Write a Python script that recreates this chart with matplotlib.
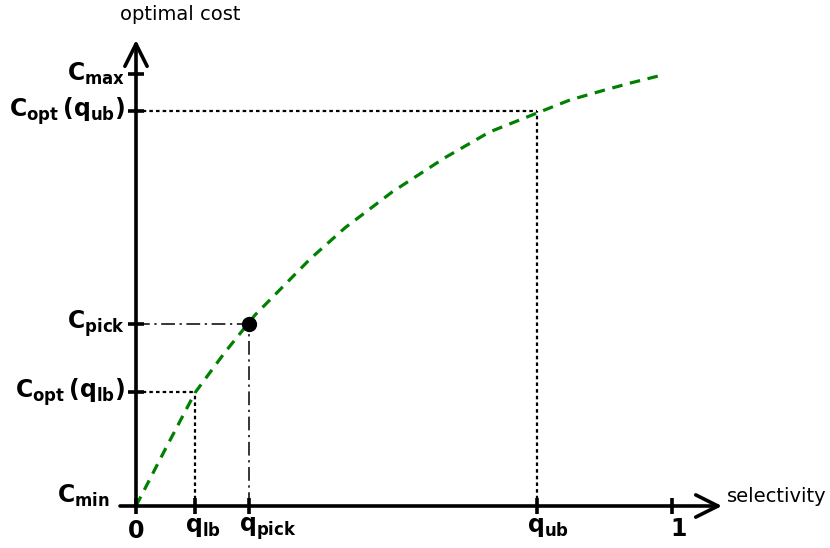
import matplotlib
matplotlib.use("Agg")
import matplotlib.pyplot as plt

# Optimal cost curve as a function of selectivity (normalised units)
curve_sel = [0.0, 0.054, 0.110, 0.166, 0.222, 0.325, 0.390, 0.478, 0.576,
             0.660, 0.763, 0.810, 0.869, 0.922, 0.983]
curve_cost = [0.0, 0.130, 0.262, 0.356, 0.442, 0.572, 0.644, 0.727, 0.806,
              0.866, 0.917, 0.940, 0.961, 0.979, 0.998]

# Marked selectivities and their costs
q_lb, q_pick, q_ub = 0.110, 0.210, 0.748
c_opt_lb, c_pick, c_opt_ub, c_max = 0.264, 0.421, 0.914, 1.0

x_tick_vals = [0.0, q_lb, q_pick, q_ub, 1.0]
x_tick_labels = [r"$\mathbf{0}$", r"$\mathbf{q_{lb}}$", r"$\mathbf{q_{pick}}$",
                 r"$\mathbf{q_{ub}}$", r"$\mathbf{1}$"]
y_tick_vals = [c_max, c_opt_ub, c_pick, c_opt_lb]
y_tick_labels = [r"$\mathbf{C_{max}}$", r"$\mathbf{C_{opt}\,(q_{ub})}$",
                 r"$\mathbf{C_{pick}}$", r"$\mathbf{C_{opt}\,(q_{lb})}$"]

W, H = 830, 548
X0, Y0 = 136, 506          # pixel position of the origin
SX, SY = 536, 432          # pixels per unit

fig = plt.figure(figsize=(W / 100, H / 100), dpi=100)
ax = fig.add_axes([0, 0, 1, 1])
ax.set_xlim(-X0 / SX, (W - X0) / SX)
ax.set_ylim(-(H - Y0) / SY, Y0 / SY)
ax.axis("off")

def dx(p):
    return p / SX

def dy(p):
    return p / SY

# axes with open arrow heads
arrow = dict(arrowstyle="->,head_length=1.6,head_width=0.8", lw=2.6,
             color="black", shrinkA=0, shrinkB=0, mutation_scale=10)
ax.annotate("", xy=(dx(722 - X0), 0), xytext=(dx(120 - X0), 0), arrowprops=arrow)
ax.annotate("", xy=(0, dy(Y0 - 40)), xytext=(0, 0), arrowprops=arrow)

# tick marks
for v in x_tick_vals:
    ax.plot([v, v], [-dy(8), dy(8)], color="black", lw=2.6, solid_capstyle="butt")
for v in y_tick_vals:
    ax.plot([-dx(8), dx(8)], [v, v], color="black", lw=2.6, solid_capstyle="butt")

# guide lines
dot_style = dict(color="black", lw=1.6, linestyle=(0, (1.6, 1.4)))
ax.plot([0, q_ub], [c_opt_ub, c_opt_ub], **dot_style)
ax.plot([q_ub, q_ub], [0, c_opt_ub], **dot_style)
ax.plot([0, q_lb], [c_opt_lb, c_opt_lb], **dot_style)
ax.plot([q_lb, q_lb], [0, c_opt_lb], **dot_style)
dashdot_style = dict(color="black", lw=1.1, linestyle=(0, (9, 3, 1.5, 3)))
ax.plot([0, q_pick], [c_pick, c_pick], **dashdot_style)
ax.plot([q_pick, q_pick], [0, c_pick], **dashdot_style)

# cost curve
ax.plot(curve_sel, curve_cost, color="#008000", lw=2.3, linestyle=(0, (3.3, 2.4)))
ax.plot([q_pick], [c_pick], "o", color="black", markersize=10)

# tick labels
for v, lab in zip(x_tick_vals, x_tick_labels):
    if v == 0.0:
        ax.text(v, -dy(13), lab, ha="center", va="top", fontsize=17)
    elif v == 1.0:
        ax.text(v - dx(2), -dy(11), lab, ha="left", va="top", fontsize=17)
    else:
        ax.text(v - dx(10), -dy(9), lab, ha="left", va="top", fontsize=17)
for v, lab in zip(y_tick_vals, y_tick_labels):
    ax.text(-dx(11), v, lab, ha="right", va="center", fontsize=17)
ax.text(-dx(26), dy(10), r"$\mathbf{C_{min}}$", ha="right", va="center", fontsize=17)

# axis titles
ax.text(dx(180 - X0), dy(Y0 - 14), "optimal cost", ha="center", va="center", fontsize=14)
ax.text(dx(777 - X0), dy(Y0 - 497), "selectivity", ha="center", va="center", fontsize=14)

fig.savefig("out.png", dpi=100)
